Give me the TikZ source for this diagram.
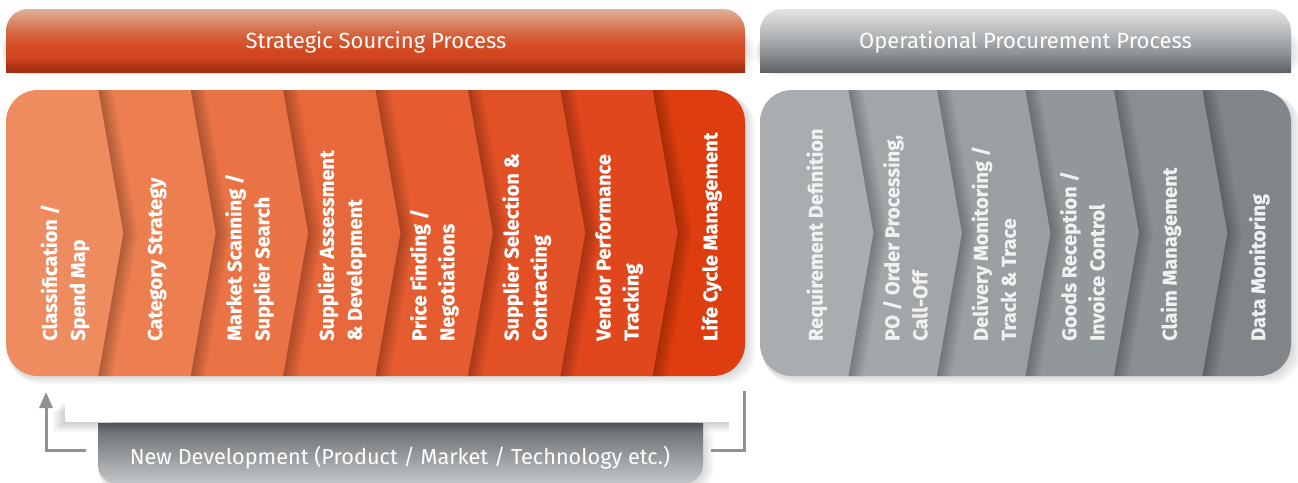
\documentclass[tikz,border=0pt]{standalone}
\usepackage{fontspec}
\setmainfont{Fira Sans}[BoldFeatures={FakeBold=0.35}]
\usetikzlibrary{arrows.meta}
\definecolor{o1}{HTML}{EE8B5F}
\definecolor{o2}{HTML}{EC7E50}
\definecolor{o3}{HTML}{E97345}
\definecolor{o4}{HTML}{E7683A}
\definecolor{o5}{HTML}{E45C2F}
\definecolor{o6}{HTML}{E25126}
\definecolor{o7}{HTML}{E0471C}
\definecolor{o8}{HTML}{DD3D0F}
\definecolor{g1}{HTML}{A9ADB0}
\definecolor{g2}{HTML}{A2A6A9}
\definecolor{g3}{HTML}{9A9FA2}
\definecolor{g4}{HTML}{92979A}
\definecolor{g5}{HTML}{8A8F92}
\definecolor{g6}{HTML}{7F8588}
\definecolor{ohA}{HTML}{A52F12}
\definecolor{ohB}{HTML}{AE3414}
\definecolor{ohC}{HTML}{CF4420}
\definecolor{ohD}{HTML}{D4481F}
\definecolor{ohE}{HTML}{D5623C}
\definecolor{ohF}{HTML}{E0B098}
\definecolor{ghA}{HTML}{5D6165}
\definecolor{ghB}{HTML}{8E9295}
\definecolor{ghC}{HTML}{B4B7B9}
\definecolor{ghD}{HTML}{E3E4E5}
\definecolor{nbA}{HTML}{62676A}
\definecolor{nbB}{HTML}{C4C7C9}
\definecolor{arrowgray}{HTML}{8C9295}
\definecolor{glabel}{HTML}{F0F1F1}
\pgfdeclareverticalshading{orhead}{100bp}{color(0bp)=(ohA); color(25bp)=(ohA); color(30bp)=(ohB); color(36bp)=(ohC); color(43bp)=(ohD); color(55bp)=(ohE); color(75bp)=(ohF); color(100bp)=(ohF)}
\pgfdeclareverticalshading{grhead}{100bp}{color(0bp)=(ghA); color(25bp)=(ghA); color(40bp)=(ghB); color(55bp)=(ghC); color(75bp)=(ghD); color(100bp)=(ghD)}
\pgfdeclareverticalshading{ndbar}{100bp}{color(0bp)=(nbB); color(25bp)=(nbB); color(75bp)=(nbA); color(100bp)=(nbA)}
\tikzset{
  headtext/.style={text=white, font=\fontsize{22}{27}\selectfont, inner sep=0pt, anchor=base},
  steplabel/.style={font=\bfseries\fontsize{20}{28}\selectfont, align=left, rotate=90, anchor=west, inner sep=0pt, text=white},
  grlabel/.style={steplabel, text=glabel},
  arrowline/.style={draw=arrowgray, line width=3pt},
}
\begin{document}
\begin{tikzpicture}[x=1pt,y=-1pt]
\useasboundingbox (0,0) rectangle (1298,482);
\fill[white] (0,0) rectangle (1298,482);

% ---------- header shadows ----------
\foreach \t in {1,...,6}{
  \fill[black,opacity=0.02,rounded corners=22pt] ({6-\t*0.8},{30}) rectangle ({745+\t*1.8},{72+\t*0.6});
  \fill[black,opacity=0.02,rounded corners=22pt] ({760-\t*0.8},{30}) rectangle ({1291+\t*1.8},{72+\t*0.6});
}
% ---------- headers ----------
\begin{scope}
  \clip[rounded corners=22pt] (6,9) rectangle (745,120);
  \shade[shading=orhead] (6,9) rectangle (745,72);
\end{scope}
\begin{scope}
  \clip[rounded corners=22pt] (760,9) rectangle (1291,120);
  \shade[shading=grhead] (760,9) rectangle (1291,72);
\end{scope}
\node[headtext] (hs) at (376,48) {Strategic Sourcing Process};
\node[headtext] (hp) at (1025.5,48) {Operational Procurement Process};

% ---------- box shadows ----------
\foreach \t in {1,...,6}{
  \fill[black,opacity=0.025,rounded corners=30pt] ({6+\t*0.6},{90+\t}) rectangle ({745+\t*1.7},{376+\t*1.3});
  \fill[black,opacity=0.025,rounded corners=30pt] ({760+\t*0.6},{90+\t}) rectangle ({1291+\t*1.7},{376+\t*1.3});
}

% ---------- orange process ----------
\begin{scope}
  \clip[rounded corners=32pt] (6,90) rectangle (745,376);
  \foreach \a/\b/\c in {-30/98.4/o1, 98.4/190.8/o2, 190.8/283.2/o3, 283.2/375.6/o4, 375.6/468/o5, 468/560.4/o6, 560.4/652.8/o7, 652.8/780/o8}{
    \fill[\c] (\a,90) -- ({\a+25},233) -- (\a,376) -- ({\b+1},376) -- ({\b+26},233) -- ({\b+1},90) -- cycle;
  }
  \foreach \s in {98.4,190.8,283.2,375.6,468,560.4,652.8}{
    \foreach \t in {1,...,8}{
      \fill[black,opacity=0.03] (\s,90) -- ({\s+25},233) -- (\s,376) -- ({\s+\t*1.8},376) -- ({\s+25+\t*1.8},233) -- ({\s+\t*1.8},90) -- cycle;
    }
  }
\end{scope}

% ---------- gray process ----------
\begin{scope}
  \clip[rounded corners=32pt] (760,90) rectangle (1291,376);
  \foreach \a/\b/\c in {720/848.5/g1, 848.5/937/g2, 937/1025.5/g3, 1025.5/1114/g4, 1114/1202.5/g5, 1202.5/1320/g6}{
    \fill[\c] (\a,90) -- ({\a+25},233) -- (\a,376) -- ({\b+1},376) -- ({\b+26},233) -- ({\b+1},90) -- cycle;
  }
  \foreach \s in {848.5,937,1025.5,1114,1202.5}{
    \foreach \t in {1,...,8}{
      \fill[black,opacity=0.03] (\s,90) -- ({\s+25},233) -- (\s,376) -- ({\s+\t*1.8},376) -- ({\s+25+\t*1.8},233) -- ({\s+\t*1.8},90) -- cycle;
    }
  }
\end{scope}

% ---------- labels ----------
\node[steplabel] (l1) at (65,341) {Classification /\\Spend Map};
\node[steplabel] (l2) at (157.1,341) {Category Strategy};
\node[steplabel] (l3) at (249.5,341) {Market Scanning /\\Supplier Search};
\node[steplabel] (l4) at (341.9,341) {Supplier Assessment\\\& Development};
\node[steplabel] (l5) at (434.3,341) {Price Finding /\\Negotiations};
\node[steplabel] (l6) at (526.7,341) {Supplier Selection \&\\Contracting};
\node[steplabel] (l7) at (619.1,341) {Vendor Performance\\Tracking};
\node[steplabel] (l8) at (711.5,341) {Life Cycle Management};
\node[grlabel] (r1) at (816.8,341) {Requirement Definition};
\node[grlabel] (r2) at (905.3,341) {PO / Order Processing,\\Call-Off};
\node[grlabel] (r3) at (993.8,341) {Delivery Monitoring /\\Track \& Trace};
\node[grlabel] (r4) at (1082.3,341) {Goods Reception /\\Invoice Control};
\node[grlabel] (r5) at (1170.8,341) {Claim Management};
\node[grlabel] (r6) at (1259.3,341) {Data Monitoring};

% ---------- new development bar ----------
\foreach \t in {1,...,6}{
  \fill[black,opacity=0.025,rounded corners=20pt] (98,{423-\t*0.5}) rectangle ({703+\t*1.8},{484+\t});
}
\begin{scope}
  \clip[rounded corners=20pt] (98,400) rectangle (703,484);
  \shade[shading=ndbar] (98,423) rectangle (703,484);
\end{scope}
\foreach \t in {1,...,6}{
  \fill[black,opacity=0.03] ({65-\t*2},{400+\t*2}) rectangle (729,{422+\t*1.6});
}
\fill[white] (65,386) rectangle (729,422);
\node[headtext, font=\fontsize{21.7}{27}\selectfont] (nd) at (400,464) {New Development (Product / Market / Technology etc.)};

% ---------- feedback connectors ----------
\coordinate (fbstart) at (86,450);
\coordinate (fbtip) at (46,392);
\coordinate (lctop) at (744,391);
\coordinate (lcend) at (711,450);
\draw[arrowline, -{Triangle[width=13pt,length=16pt]}] (fbstart) -| (fbtip);
\draw[arrowline] (lctop) |- (lcend);
\end{tikzpicture}
\end{document}
